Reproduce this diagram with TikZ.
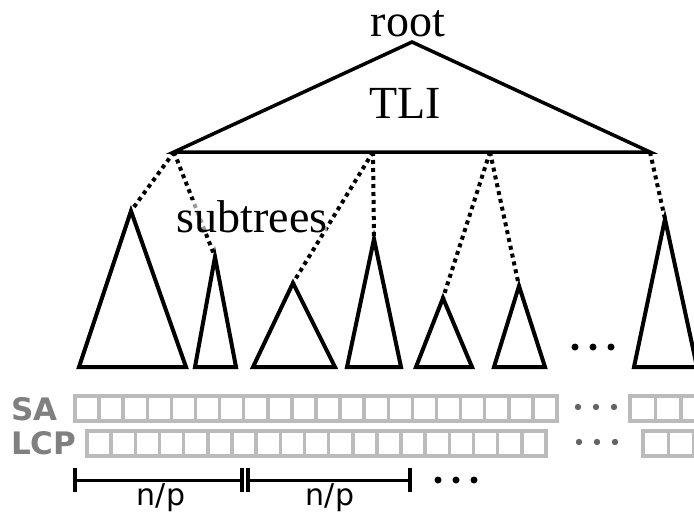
\documentclass[tikz,border=0pt]{standalone}
\usepackage{fontspec}
\setmainfont{Liberation Serif}
\newfontfamily\labelfont{DejaVu Sans}
\definecolor{cellgray}{RGB}{187,187,187}
\definecolor{labelgray}{RGB}{128,128,128}
\definecolor{dotgray}{RGB}{100,100,100}
\begin{document}
\begin{tikzpicture}[x=1pt,y=-1pt,
  tri/.style={draw=black,line width=4pt,line join=miter},
  tli/.style={draw=black,line width=3.5pt,line join=miter},
  link/.style={line width=4pt,dash pattern=on 4pt off 4pt},
  cell/.style={draw=cellgray,line width=3.5pt},
  bigtext/.style={font=\fontsize{46}{54}\selectfont,inner sep=0pt,anchor=base},
  rowlabel/.style={font=\labelfont\bfseries\fontsize{31}{34}\selectfont,text=labelgray,inner sep=0pt,anchor=west},
  sizelabel/.style={font=\labelfont\fontsize{30}{34}\selectfont,inner sep=0pt},
  ruler/.style={line width=3pt},
  tick/.style={line width=4pt},
  bigdot/.style={fill=black},
  celldot/.style={fill=dotgray}]
\useasboundingbox (0,0) rectangle (694,514);
\clip (0,0) rectangle (694,514);

% top level index
\coordinate (top) at (412,42);
\coordinate (b1) at (174,152);
\coordinate (b2) at (373,152);
\coordinate (b3) at (490,152);
\coordinate (b4) at (650,152);
\draw[tli] (b1) -- (top) -- (b4) -- cycle;
\node[bigtext] (root) at (408,36) {root};
\node[bigtext] (tli) at (405,118) {TLI};

% subtree apexes
\coordinate (a1) at (131,211);
\coordinate (a2) at (215,257);
\coordinate (a3) at (293,283);
\coordinate (a4) at (374,239);
\coordinate (a5) at (443,298);
\coordinate (a6) at (519,286);
\coordinate (a7) at (665,219);

% links from the index to the subtrees
\draw[link] (b1) -- (a1);
\draw[link] (b1) -- (a2);
\draw[link] (b2) -- (a3);
\draw[link] (b2) -- (a4);
\draw[link] (b3) -- (a5);
\draw[link] (b3) -- (a6);
\draw[link] (b4) -- (a7);

\node[bigtext,fill=white,fill opacity=0.6,text opacity=1] (subtrees) at (252,232) {subtrees};

% subtrees
\draw[tri] (a1) -- (186,367) -- (79,367) -- cycle;
\draw[tri] (a2) -- (236,367) -- (195,367) -- cycle;
\draw[tri] (a3) -- (335,367) -- (253,367) -- cycle;
\draw[tri] (a4) -- (401,367) -- (347,367) -- cycle;
\draw[tri] (a5) -- (472,367) -- (416,367) -- cycle;
\draw[tri] (a6) -- (545,367) -- (494,367) -- cycle;
\draw[tri] (a7) -- (697,367) -- (634,367) -- cycle;
\foreach \x in {575,593,611} \fill[bigdot] (\x,347) circle (3.5pt);

% SA and LCP arrays
\node[rowlabel] (sa) at (11,409) {SA};
\node[rowlabel] (lcp) at (11,443) {LCP};
\foreach \i in {0,...,19} \draw[cell] (75+\i*24.1,396) rectangle ++(24.1,25);
\foreach \i in {0,...,2} \draw[cell] (630+\i*25.5,396) rectangle ++(25.5,25);
\foreach \i in {0,...,18} \draw[cell] (87+\i*24.16,431) rectangle ++(24.16,25);
\foreach \i in {0,...,2} \draw[cell] (643+\i*25.5,431) rectangle ++(25.5,25);
\foreach \x in {578,596,614} \fill[celldot] (\x,407) circle (3.2pt);
\foreach \x in {579,597,615} \fill[celldot] (\x,442) circle (3.2pt);

% block sizes
\coordinate (r0) at (75,480);
\coordinate (r1) at (242,480);
\coordinate (r2) at (248,480);
\coordinate (r3) at (410,480);
\draw[ruler] (r0) -- (r1);
\draw[ruler] (r2) -- (r3);
\foreach \c in {r0,r1,r2,r3} \draw[tick] ([yshift=-12pt]\c) -- ([yshift=12pt]\c);
\node[sizelabel] (np1) at (161,498) {n/p};
\node[sizelabel] (np2) at (330,498) {n/p};
\foreach \x in {438,456,474} \fill[bigdot] (\x,480) circle (3.5pt);
\end{tikzpicture}
\end{document}
